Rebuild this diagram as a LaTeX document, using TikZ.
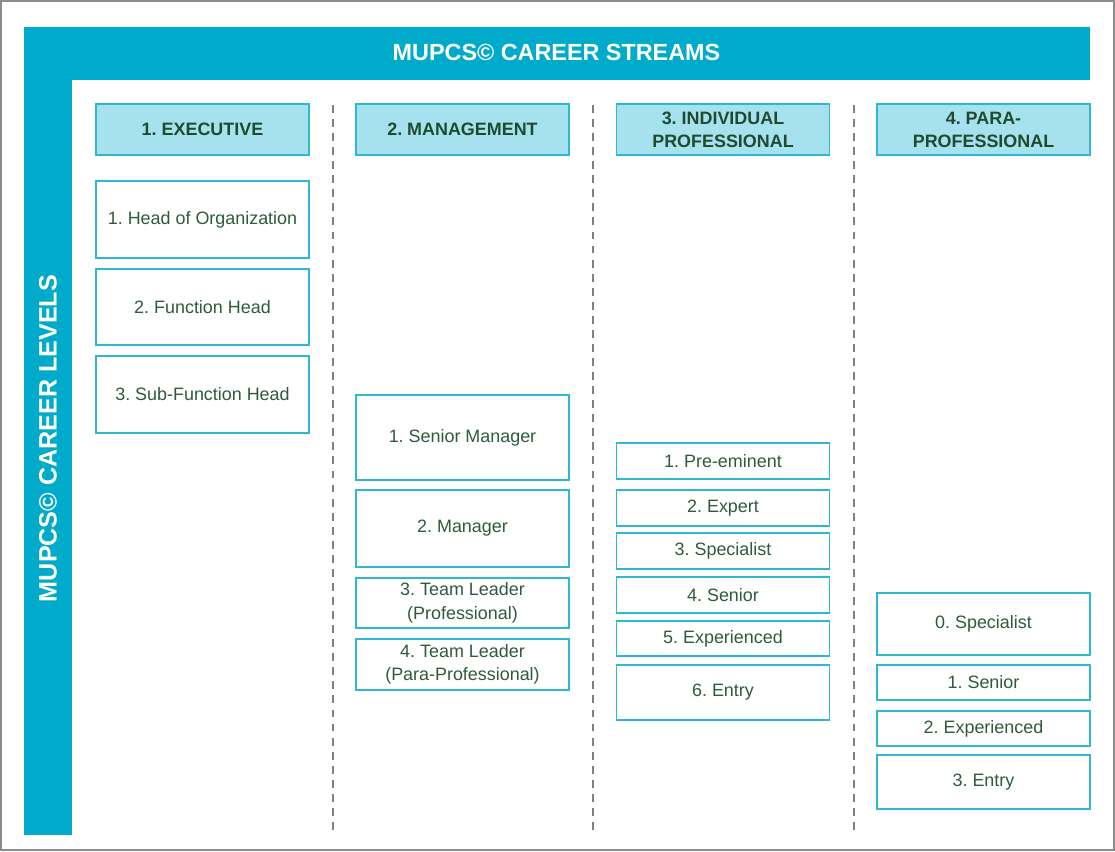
\documentclass[tikz,border=0pt]{standalone}
\usepackage{fontspec}
\setmainfont{Liberation Sans}
\frenchspacing
\definecolor{barblue}{HTML}{00AACB}
\definecolor{headfill}{HTML}{A6E2EE}
\definecolor{boxline}{HTML}{2EB8D2}
\definecolor{boxtext}{HTML}{2F5A3C}
\definecolor{headtext}{HTML}{1E4A30}
\definecolor{frame}{HTML}{8C8C8C}

\begin{document}
\begin{tikzpicture}[line width=0.8pt,
  levelbox/.style={draw=boxline,fill=white,minimum width=4.26cm,inner sep=1pt,
    align=center,text=boxtext,font=\fontsize{10.2}{13.4}\selectfont},
  streamhead/.style={levelbox,fill=headfill,minimum height=1.02cm,
    text=headtext,font=\bfseries\fontsize{10.2}{13}\selectfont},
  divider/.style={draw=gray,line width=0.6pt,dash pattern=on 4.5pt off 3.5pt}]
\useasboundingbox (0,0) rectangle (22.3,-17.02);
% outer frame
\draw[frame,line width=1pt] (0.02,-0.02) rectangle (22.28,-17.0);
% stream and level bars
\fill[barblue] (0.48,-0.54) rectangle (21.8,-1.60);
\fill[barblue] (0.48,-0.54) rectangle (1.44,-16.70);
\node[text=white,font=\bfseries\fontsize{13.3}{15}\selectfont] (streams) at (11.13,-1.04) {MUPCS© CAREER STREAMS};
\node[text=white,font=\bfseries\fontsize{14.3}{16}\selectfont,rotate=90] (levels) at (0.96,-8.77) {MUPCS© CAREER LEVELS};
% column dividers
\foreach \x in {6.66,11.86,17.08}
  \draw[divider] (\x,-2.1) -- (\x,-16.7);
% stream headers
\node[streamhead] (exec) at (4.05,-2.59) {1. EXECUTIVE};
\node[streamhead] (mgmt) at (9.25,-2.59) {2. MANAGEMENT};
\node[streamhead] (indiv) at (14.46,-2.59) {3. INDIVIDUAL\\PROFESSIONAL};
\node[streamhead] (para) at (19.67,-2.59) {4. PARA-\\PROFESSIONAL};
% executive levels
\node[levelbox,minimum height=1.54cm] (exec1) at (4.05,-4.39) {1. Head of Organization};
\node[levelbox,minimum height=1.52cm] (exec2) at (4.05,-6.14) {2. Function Head};
\node[levelbox,minimum height=1.54cm] (exec3) at (4.05,-7.89) {3. Sub-Function Head};
% management levels
\node[levelbox,minimum height=1.70cm] (mgmt1) at (9.25,-8.75) {1. Senior Manager};
\node[levelbox,minimum height=1.54cm] (mgmt2) at (9.25,-10.57) {2. Manager};
\node[levelbox,minimum height=1.00cm] (mgmt3) at (9.25,-12.06) {3. Team Leader\\(Professional)};
\node[levelbox,minimum height=1.02cm] (mgmt4) at (9.25,-13.29) {4. Team Leader\\(Para-Professional)};
% individual professional levels
\node[levelbox,minimum height=0.72cm] (indiv1) at (14.46,-9.22) {1. Pre-eminent};
\node[levelbox,minimum height=0.72cm] (indiv2) at (14.46,-10.16) {2. Expert};
\node[levelbox,minimum height=0.72cm] (indiv3) at (14.46,-11.02) {3. Specialist};
\node[levelbox,minimum height=0.72cm] (indiv4) at (14.46,-11.90) {4. Senior};
\node[levelbox,minimum height=0.70cm] (indiv5) at (14.46,-12.77) {5. Experienced};
\node[levelbox,minimum height=1.10cm] (indiv6) at (14.46,-13.85) {6. Entry};
% para-professional levels
\node[levelbox,minimum height=1.24cm] (para0) at (19.67,-12.48) {0. Specialist};
\node[levelbox,minimum height=0.70cm] (para1) at (19.67,-13.65) {1. Senior};
\node[levelbox,minimum height=0.70cm] (para2) at (19.67,-14.57) {2. Experienced};
\node[levelbox,minimum height=1.08cm] (para3) at (19.67,-15.64) {3. Entry};
\end{tikzpicture}
\end{document}
